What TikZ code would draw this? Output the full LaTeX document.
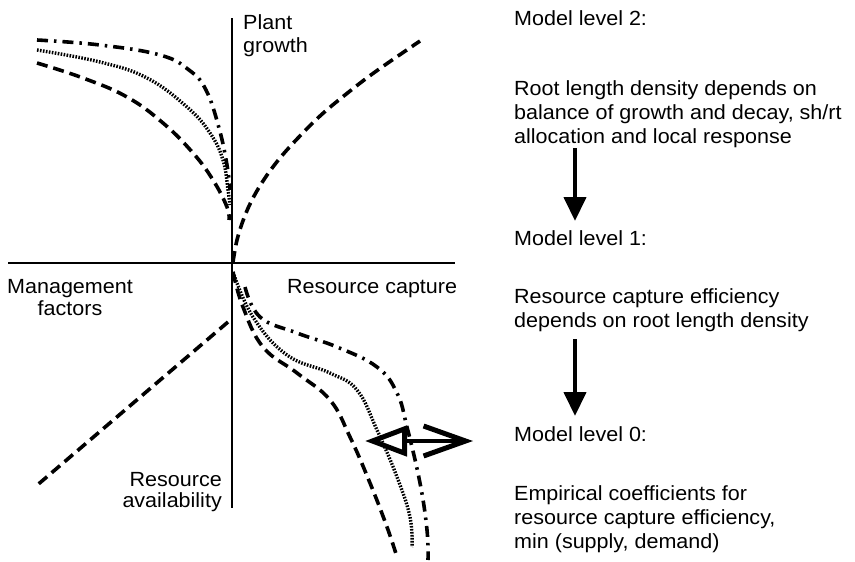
\documentclass[tikz,border=0pt]{standalone}
\usepackage{fontspec}
\setmainfont[FakeStretch=1.05]{Liberation Sans}
\usetikzlibrary{arrows.meta}
\begin{document}
\begin{tikzpicture}[x=1pt,y=-1pt,
  lbl/.style={font=\fontsize{20.5}{23}\selectfont, inner sep=0pt},
  axis/.style={line width=1.4pt},
  dashcurve/.style={line width=3.6pt, dash pattern=on 11pt off 6pt},
  dotcurve/.style={line width=3.4pt, dash pattern=on 1.6pt off 1.4pt},
  dashdotcurve/.style={line width=3.6pt, dash pattern=on 11pt off 6pt on 2.5pt off 6pt},
  levelarrow/.style={line width=4.2pt, -{Triangle[length=24pt,width=22pt]}},
  shiftarrow/.style={line width=4pt, {Triangle[open,length=42pt,width=30pt,line width=5pt]}-{Straight Barb[length=42pt,width=30pt,line width=5pt]}},
]
\useasboundingbox (0,0) rectangle (855,562);

% axes
\draw[axis] (232,18) -- (232,508);
\draw[axis] (8,263) -- (455,263);

% axis labels
\node[lbl, anchor=base west] (pg1) at (243,30) {Plant};
\node[lbl, anchor=base west] (pg2) at (243,52) {growth};
\node[lbl, anchor=base] (mf1) at (70,293) {Management};
\node[lbl, anchor=base] (mf2) at (70,315) {factors};
\node[lbl, anchor=base west] (rc) at (287,293) {Resource capture};
\node[lbl, anchor=base east] (ra1) at (222,486) {Resource};
\node[lbl, anchor=base east] (ra2) at (222,507) {availability};

% upper right quadrant
\draw[dashcurve] plot[smooth, tension=0.6] coordinates {(233,262) (237,240) (244,218) (253,198) (265,178) (280,158) (298,138) (320,116) (345,95) (375,72) (420,41)};

% upper left quadrant
\draw[dashdotcurve] plot[smooth, tension=0.7] coordinates {(37,40) (100,45) (160,55) (189,70) (206,90) (219,128) (227,165) (230,190)};
\draw[dotcurve] plot[smooth, tension=0.7] coordinates {(37,50) (100,62) (147,78) (187,107) (210,133) (223,160) (228,190) (230,205)};
\draw[dashcurve] plot[smooth, tension=0.7] coordinates {(37,63) (83,78) (127,97) (163,123) (193,153) (213,180) (227,207) (229,220)};

% lower left quadrant
\draw[dashcurve] (228,322) -- (35,487);

% lower right quadrant
\draw[dashcurve] plot[smooth, tension=0.7] coordinates {(233,272) (243,307) (263,347) (297,373) (330,400) (350,437) (370,483) (387,527) (397,557)};
\draw[dotcurve] plot[smooth, tension=0.7] coordinates {(233,272) (253,317) (287,355) (330,373) (357,390) (377,430) (397,477) (410,517) (412,547)};
\draw[dashdotcurve] plot[smooth, tension=0.7] coordinates {(245,287) (260,317) (297,333) (337,347) (377,367) (397,393) (407,427) (420,483) (427,530) (428,560)};

% shift arrow
\coordinate (sl) at (365,441);
\coordinate (sr) at (473,441);
\draw[shiftarrow] (sl) -- (sr);

% model levels
\node[lbl, anchor=base west] (m2) at (514,25) {Model level 2:};
\node[lbl, anchor=base west] (d2a) at (514,95) {Root length density depends on};
\node[lbl, anchor=base west] (d2b) at (514,119) {balance of growth and decay, sh/rt};
\node[lbl, anchor=base west] (d2c) at (514,143) {allocation and local response};

\node[lbl, anchor=base west] (m1) at (514,245) {Model level 1:};
\node[lbl, anchor=base west] (d1a) at (514,303) {Resource capture efficiency};
\node[lbl, anchor=base west] (d1b) at (514,327) {depends on root length density};

\node[lbl, anchor=base west] (m0) at (514,441) {Model level 0:};
\node[lbl, anchor=base west] (d0a) at (514,500) {Empirical coefficients for};
\node[lbl, anchor=base west] (d0b) at (514,524) {resource capture efficiency,};
\node[lbl, anchor=base west] (d0c) at (514,548) {min (supply, demand)};

\coordinate (a1s) at (575,148);
\coordinate (a1e) at (575,221);
\coordinate (a2s) at (575,339);
\coordinate (a2e) at (575,416);
\draw[levelarrow] (a1s) -- (a1e);
\draw[levelarrow] (a2s) -- (a2e);
\end{tikzpicture}
\end{document}
